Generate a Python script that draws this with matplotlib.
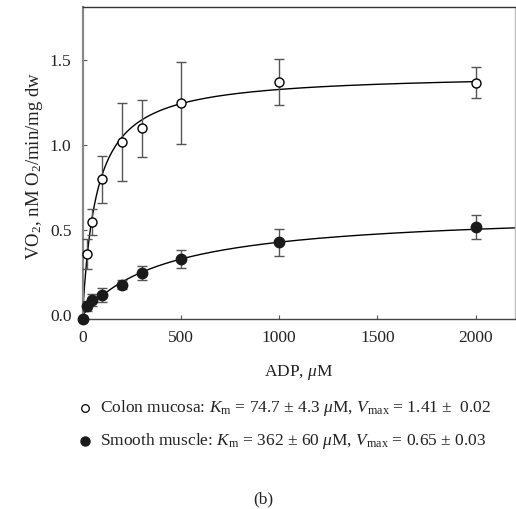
"""
ADP-stimulated respiration, colon mucosa vs smooth muscle (panel b).
"""
import matplotlib
matplotlib.use("Agg")
import matplotlib.pyplot as plt
from matplotlib.lines import Line2D
import numpy as np

plt.rcParams["font.family"] = ["Liberation Serif", "DejaVu Serif"]
plt.rcParams["mathtext.fontset"] = "custom"
plt.rcParams["mathtext.rm"] = "Liberation Serif"
plt.rcParams["mathtext.it"] = "Liberation Serif:italic"

# ── data ──
adp = [0, 25, 50, 100, 200, 300, 500, 1000, 2000]

colon_v = [-0.02, 0.36, 0.55, 0.80, 1.02, 1.10, 1.25, 1.375, 1.37]
colon_err = [0.0, 0.09, 0.075, 0.14, 0.23, 0.17, 0.24, 0.135, 0.09]

smooth_v = [-0.02, 0.055, 0.09, 0.12, 0.18, 0.25, 0.33, 0.43, 0.52]
smooth_err = [0.0, 0.03, 0.035, 0.042, 0.028, 0.04, 0.053, 0.08, 0.07]

# fitted Michaelis-Menten curves (Km, Vmax) as drawn
colon_fit = (72.0, 1.425)
smooth_fit = (430.0, 0.615)

legend_colon = r"Colon mucosa: $K_\mathrm{m}$ = 74.7 ± 4.3 $\mu$M, $V_\mathrm{max}$ = 1.41 ±  0.02"
legend_smooth = r"Smooth muscle: $K_\mathrm{m}$ = 362 ± 60 $\mu$M, $V_\mathrm{max}$ = 0.65 ± 0.03"

ERR_GREY = "#555555"
TEXT = "#222222"
FS = 12.5

fig = plt.figure(figsize=(5.16, 5.09), dpi=100)
ax = fig.add_axes([0.160, 0.373, 0.838, 0.613])


def mm(x, km, vmax):
    return vmax * x / (km + x)


xc = np.linspace(0, 2000, 400)
ax.plot(xc, mm(xc, *colon_fit), color="black", lw=1.0, zorder=2)
xs = np.linspace(0, 2200, 400)
ax.plot(xs, mm(xs, *smooth_fit), color="black", lw=1.0, zorder=2)

ax.errorbar(adp, colon_v, yerr=colon_err, fmt="o", ms=6.5, mfc="white", mec="black",
            mew=1.0, ecolor=ERR_GREY, elinewidth=1.0, capsize=3.5, capthick=1.0,
            zorder=4, clip_on=False)
ax.errorbar(adp, smooth_v, yerr=smooth_err, fmt="o", ms=7.5, mfc="#1a1a1a", mec="#1a1a1a",
            ecolor=ERR_GREY, elinewidth=1.0, capsize=3.5, capthick=1.0,
            zorder=5, clip_on=False)

ax.set_xlim(0, 2200)
ax.set_ylim(-0.023, 1.814)
ax.set_xticks([0, 500, 1000, 1500, 2000])
ax.set_yticks([0.0, 0.5, 1.0, 1.5])
ax.set_yticklabels(["0.0", "0.5", "1.0", "1.5"])
ax.tick_params(direction="in", length=3, width=0.8, labelsize=FS, colors="#555555",
               labelcolor=TEXT, pad=8)

ax.spines["left"].set_color("#888888")
ax.spines["left"].set_linewidth(1.6)
ax.spines["bottom"].set_color("#444444")
ax.spines["bottom"].set_linewidth(1.0)
ax.spines["top"].set_color("#333333")
ax.spines["top"].set_linewidth(1.0)
ax.spines["right"].set_color("#bbbbbb")
ax.spines["right"].set_linewidth(1.0)

ax.set_xlabel(r"ADP, $\mu$M", fontsize=FS, color=TEXT)
ax.set_ylabel(r"VO$_2$, nM O$_2$/min/mg dw", fontsize=13.5, color=TEXT)
ax.xaxis.set_label_coords(0.5, -0.142)
ax.yaxis.set_label_coords(-0.088, 0.49)

# ── legend below the axes ──
fig.add_artist(Line2D([85 / 516], [1 - 408 / 509], transform=fig.transFigure, marker="o",
                      ms=5.5, mfc="white", mec="black", mew=0.9, ls="none"))
fig.add_artist(Line2D([85 / 516], [1 - 441 / 509], transform=fig.transFigure, marker="o",
                      ms=6.5, mfc="#1a1a1a", mec="#1a1a1a", ls="none"))
fig.text(100 / 516, 1 - 408 / 509, legend_colon, fontsize=FS, color=TEXT, va="center")
fig.text(100 / 516, 1 - 441 / 509, legend_smooth, fontsize=FS, color=TEXT, va="center")

fig.text(263 / 516, 1 - 499 / 509, "(b)", fontsize=FS, color=TEXT, ha="center", va="center")

fig.savefig("out.png", dpi=100, facecolor="white")
plt.close(fig)
